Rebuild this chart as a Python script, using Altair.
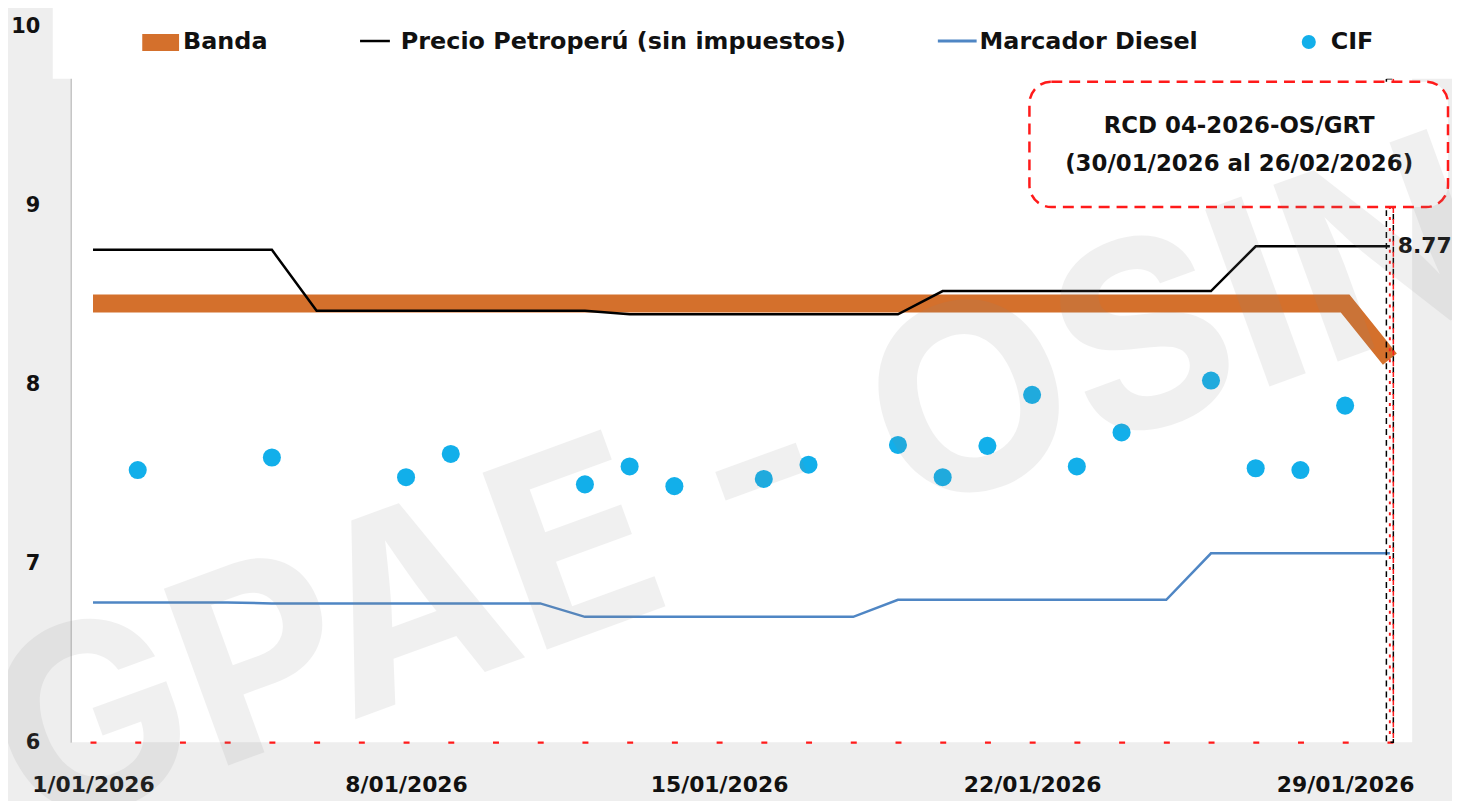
import altair as alt
import pandas as pd

# ---------------- data ----------------
days = list(range(1, 31))
banda = [8.45, 8.45, 8.45, 8.45, 8.45, 8.45, 8.45, 8.45, 8.45, 8.45,
         8.45, 8.45, 8.45, 8.45, 8.45, 8.45, 8.45, 8.45, 8.45, 8.45,
         8.45, 8.45, 8.45, 8.45, 8.45, 8.45, 8.45, 8.45, 8.45, 8.14]
precio = [8.75, 8.75, 8.75, 8.75, 8.75, 8.41, 8.41, 8.41, 8.41, 8.41,
          8.41, 8.41, 8.39, 8.39, 8.39, 8.39, 8.39, 8.39, 8.39, 8.52,
          8.52, 8.52, 8.52, 8.52, 8.52, 8.52, 8.77, 8.77, 8.77, 8.77]
marcador = [6.78, 6.78, 6.78, 6.78, 6.775, 6.775, 6.775, 6.775, 6.775, 6.775,
            6.775, 6.70, 6.70, 6.70, 6.70, 6.70, 6.70, 6.70, 6.795, 6.795,
            6.795, 6.795, 6.795, 6.795, 6.795, 7.055, 7.055, 7.055, 7.055, 7.055]
cif_days = [2, 5, 8, 9, 12, 13, 14, 16, 17, 19, 20, 21, 22, 23, 24, 26, 27, 28, 29]
cif_vals = [7.52, 7.59, 7.48, 7.61, 7.44, 7.54, 7.43, 7.47, 7.55, 7.66,
            7.48, 7.655, 7.94, 7.54, 7.73, 8.02, 7.53, 7.52, 7.88]
x_ticks = [1, 8, 15, 22, 29]
y_ticks = [6, 7, 8, 9, 10]
legend_labels = ["Banda", "Precio Petroperú (sin impuestos)", "Marcador Diesel", "CIF"]
note_lines = ["RCD 04-2026-OS/GRT", "(30/01/2026 al 26/02/2026)"]
watermark = "GPAE - OSINERGMIN"

FONT = "DejaVu Sans"
ORANGE = "#d4702c"
BLUE = "#4f86c4"
CYAN = "#12afea"
RED = "#ff1a1a"

df_banda = pd.DataFrame({"day": days, "v": banda})
df_precio = pd.DataFrame({"day": days, "v": precio})
df_marc = pd.DataFrame({"day": days, "v": marcador})
df_cif = pd.DataFrame({"day": cif_days, "v": cif_vals})
df_last = df_precio.tail(1)
one = pd.DataFrame({"k": [0]})

W, H = 1349, 720

X = alt.X("day:Q",
          scale=alt.Scale(domain=[0.5, 30.5], nice=False, zero=False),
          axis=alt.Axis(values=x_ticks, labelExpr="datum.value + '/01/2026'",
                        title=None, grid=False, ticks=False, tickSize=0,
                        labelFont=FONT, labelFontSize=22, labelFontWeight="bold",
                        labelColor="#111111", labelPadding=33,
                        domainColor=RED, domainWidth=2.5,
                        domainDash=[6, 38.97], domainDashOffset=25.5,
                        labelFlush=False, labelOverlap=False))
Y = alt.Y("v:Q",
          scale=alt.Scale(domain=[6, 10], nice=False, zero=False),
          axis=alt.Axis(values=y_ticks, format="d", title=None, grid=False, ticks=False, tickSize=0,
                        labelFont=FONT, labelFontSize=21, labelFontWeight="bold",
                        labelColor="#111111", labelPadding=31,
                        domainColor="#a6a6a6", domainWidth=1, labelFlush=False))

band_l = alt.Chart(df_banda).mark_line(color=ORANGE, strokeWidth=18, strokeCap="butt",
                                       strokeJoin="miter").encode(x=X, y=Y)
precio_l = alt.Chart(df_precio).mark_line(color="#000000", strokeWidth=2.5).encode(x=X, y=Y)
marc_l = alt.Chart(df_marc).mark_line(color=BLUE, strokeWidth=2.5).encode(x=X, y=Y)
cif_p = alt.Chart(df_cif).mark_circle(color=CYAN, size=330, opacity=1).encode(x=X, y=Y)

last_lbl = alt.Chart(df_last).mark_text(align="left", baseline="middle", dx=8, font=FONT,
                                        fontSize=22, fontWeight="bold", color="#111111").encode(
    x=X, y=Y, text=alt.Text("v:Q", format=".2f"))

# vertical dotted marker at 30/01
vline_a = alt.Chart(one).mark_rect(fill=None, stroke="#000000", strokeWidth=1.5, strokeDash=[6, 5],
                                   xOffset=-3.5, x2Offset=3.5).encode(
    x=alt.datum(30), x2=alt.datum(30), y=alt.datum(9.706), y2=alt.datum(6))
vline_c = alt.Chart(one).mark_rule(color=RED, strokeWidth=2, strokeDash=[3, 8], strokeDashOffset=4,
                                   ).encode(x=alt.datum(30), y=alt.datum(9.706), y2=alt.datum(6))
vline_b = alt.Chart(one).mark_rule(color=RED, strokeWidth=1.5, strokeDash=[5, 6], strokeDashOffset=2,
                                   xOffset=3.5).encode(x=alt.datum(30), y=alt.datum(9.706), y2=alt.datum(6))

# annotation box
box = alt.Chart(one).mark_rect(fill="white", stroke=RED, strokeWidth=2.5, strokeDash=[11, 7],
                               cornerRadius=22).encode(
    x=alt.datum(21.94), x2=alt.datum(31.3), y=alt.datum(9.689), y2=alt.datum(8.989))
note1 = alt.Chart(one).mark_text(font=FONT, fontSize=23, fontWeight="bold", color="#111111",
                                 baseline="middle").encode(
    x=alt.datum(26.63), y=alt.datum(9.439), text=alt.value(note_lines[0]))
note2 = alt.Chart(one).mark_text(font=FONT, fontSize=23, fontWeight="bold", color="#111111",
                                 baseline="middle").encode(
    x=alt.datum(26.63), y=alt.datum(9.228), text=alt.value(note_lines[1]))

# legend (drawn manually)
leg_box = alt.Chart(one).mark_rect(fill="white").encode(
    x=alt.value(-18), x2=alt.value(1395), y=alt.value(-20), y2=alt.value(53))
leg_rect = alt.Chart(one).mark_rect(fill=ORANGE).encode(
    x=alt.value(72), x2=alt.value(109), y=alt.value(8), y2=alt.value(25))
leg_black = alt.Chart(one).mark_rule(color="#000000", strokeWidth=2.5).encode(
    x=alt.value(291), x2=alt.value(321), y=alt.value(15))
leg_blue = alt.Chart(one).mark_rule(color=BLUE, strokeWidth=3).encode(
    x=alt.value(872), x2=alt.value(911), y=alt.value(15))
leg_dot = alt.Chart(one).mark_circle(color=CYAN, size=200, opacity=1).encode(
    x=alt.value(1245), y=alt.value(16))


def leg_text(xpos, label):
    return alt.Chart(one).mark_text(align="left", baseline="middle", font=FONT, fontSize=24,
                                    fontWeight="bold", color="#111111").encode(
        x=alt.value(xpos), y=alt.value(16), text=alt.value(label))


leg_texts = [leg_text(113, legend_labels[0]), leg_text(332, legend_labels[1]),
             leg_text(914, legend_labels[2]), leg_text(1267, legend_labels[3])]

wm = alt.Chart(one).mark_text(align="left", baseline="alphabetic", angle=340, font="Inter",
                              fontSize=260, fontWeight="bold", color="#888888", opacity=0.12).encode(
    x=alt.value(-41), y=alt.value(816), text=alt.value(watermark))

chart = alt.layer(
    band_l, precio_l, marc_l, cif_p, last_lbl,
    vline_a, vline_c, vline_b, box, note1, note2,
    leg_box, leg_rect, leg_black, leg_blue, leg_dot, *leg_texts,
    wm,
).properties(
    width=W, height=H,
    autosize=alt.AutoSizeParams(type="none"),
    padding={"left": 63, "top": 16, "right": 40, "bottom": 57},
    background="#eeeeee",
).configure_view(fill="white", stroke=None)

chart.save("out.html", embed_options={"renderer": "svg", "actions": False})
